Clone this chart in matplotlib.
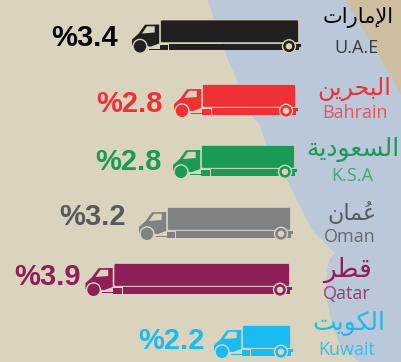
import matplotlib
matplotlib.use("Agg")
import matplotlib.pyplot as plt
from matplotlib.patches import Polygon, Rectangle, Circle, FancyBboxPatch

# data
names_en = ["U.A.E", "Bahrain", "K.S.A", "Oman", "Qatar", "Kuwait"]
# arabic names, logical order, already in presentation forms (matplotlib does no shaping)
names_ar = [
    "\ufe8d\ufef9\ufee3\ufe8e\ufead\ufe8d\ufe95",
    "\ufe8d\ufedf\ufe92\ufea4\ufeae\ufef3\ufee6",
    "\ufe8d\ufedf\ufeb4\ufecc\ufeee\ufea9\ufef3\ufe94",
    "\ufecb\u064f\ufee4\ufe8e\ufee5",
    "\ufed7\ufec4\ufeae",
    "\ufe8d\ufedf\ufedc\ufeee\ufef3\ufe96",
]
values = [3.4, 2.8, 2.8, 3.2, 3.9, 2.2]

# styles and layout per row
colors = ["#231f20", "#ef3135", "#1a9a57", "#808184", "#8e1f58", "#1abbf0"]
label_colors = ["#000000", "#ef3135", "#1a9a57", "#58595b", "#8e1f58", "#1abbf0"]
en_colors = ["#3a3a3c", "#e8545c", "#3aab73", "#68696c", "#94406f", "#2fbfef"]
truck_right = [299, 296, 295, 291, 290, 291]
truck_top = [19.5, 84, 145, 207, 263, 325]
label_right = [118, 163, 162, 126, 81, 205]
label_y = [38, 104, 162, 217, 277, 341]
ar_pos = [(358, 18), (354, 89), (353, 149), (352, 212), (348, 270), (349, 323)]
ar_size = [15, 17, 18, 16, 19, 18]
en_pos = [(357, 48), (355, 113), (352, 176), (350, 237), (347, 294), (347, 350)]

BEIGE = "#dad4be"
BLUE = "#bac8da"
TAN = "#cdbfa0"

# trailer length in pixels for a value
SCALE = 75
BASE_VALUE = 2.2
BASE_LEN = 49

plt.rcParams["font.family"] = ["Open Sans", "DejaVu Sans"]

fig = plt.figure(figsize=(4.02, 3.62), dpi=100)
ax = fig.add_axes([0, 0, 1, 1])
ax.set_xlim(0, 402)
ax.set_ylim(362, 0)
ax.axis("off")

# map background
ax.add_patch(Rectangle((0, 0), 402, 362, color=BEIGE, lw=0))
water = [(208, 0), (213, 16), (226, 55), (253, 117), (260, 125), (266, 145), (287, 180),
         (312, 230), (322, 240), (335, 253), (329, 260), (326, 280), (327, 300),
         (331, 320), (339, 343), (359, 362), (402, 362), (402, 0)]
ax.add_patch(Polygon(water, closed=True, color=BLUE, lw=0))
ax.add_patch(Polygon([(345, 0), (402, 0), (402, 97), (379, 55)], closed=True, color=TAN, lw=0))


def draw_truck(right, top, value, color):
    length = BASE_LEN + SCALE * (value - BASE_VALUE)
    x0 = right - length
    # trailer
    ax.add_patch(FancyBboxPatch((x0 + 0.5, top + 0.5), length - 1, 22.7,
                                boxstyle="round,pad=0,rounding_size=1.5",
                                fc=color, ec=BEIGE, lw=0.5))
    # chassis
    ax.add_patch(Rectangle((x0 + 9.5, top + 24.4), length - 9.5, 6.2, fc=color, lw=0))
    ax.add_patch(Rectangle((x0, top + 25.3), 8.5, 5.3, fc=color, lw=0))
    ax.add_patch(Rectangle((x0 - 11, top + 29), 11, 1.3, fc=color, lw=0))
    ax.add_patch(Rectangle((x0 + length - 3, top + 24.2), 5, 3, fc=color, lw=0))
    # cab
    cab = [(x0 - 15, top + 5.2), (x0 - 0.8, top + 5), (x0 - 0.8, top + 24), (x0 - 9, top + 27),
           (x0 - 28, top + 26), (x0 - 28, top + 20), (x0 - 21.5, top + 14.2)]
    ax.add_patch(Polygon(cab, closed=True, fc=color, lw=0))
    window = [(x0 - 13, top + 6.8), (x0 - 5.3, top + 6.8), (x0 - 5.3, top + 13), (x0 - 18, top + 14)]
    ax.add_patch(Polygon(window, closed=True, fc=BEIGE, lw=0))
    # front wheel
    ax.add_patch(Circle((x0 - 20, top + 26.8), 7.6, fc=BEIGE, lw=0))
    ax.add_patch(Circle((x0 - 20, top + 26.8), 6.2, fc=color, lw=0))
    # rear wheel
    ax.add_patch(Circle((right - 10, top + 26.8), 7.2, fc=BEIGE, lw=0))
    ax.add_patch(Circle((right - 10, top + 26.8), 5.8, fc=color, lw=0))
    ax.add_patch(Circle((right - 10, top + 26.8), 3.2, fc=BEIGE, lw=0))


for i in range(len(values)):
    draw_truck(truck_right[i], truck_top[i], values[i], colors[i])
    ax.text(label_right[i], label_y[i], "%" + str(values[i]), ha="right", va="center",
            family="Liberation Sans", weight="bold", fontsize=21, color=label_colors[i])
    ax.text(ar_pos[i][0], ar_pos[i][1], names_ar[i][::-1], ha="center", va="center",
            family="DejaVu Sans", fontsize=ar_size[i], color=label_colors[i])
    ax.text(en_pos[i][0], en_pos[i][1], names_en[i], ha="center", va="center",
            fontsize=13, color=en_colors[i])

fig.savefig("out.png", dpi=100)
